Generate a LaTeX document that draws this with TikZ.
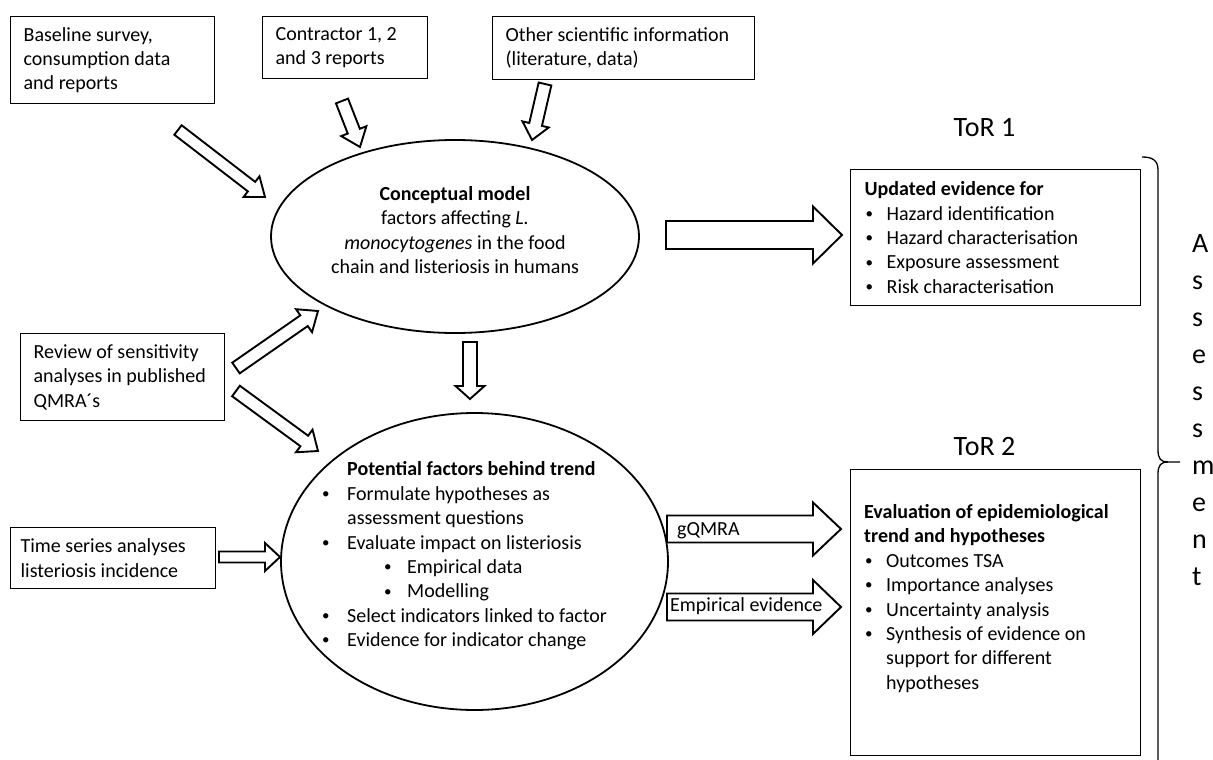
\documentclass[tikz,border=0pt]{standalone}
\usepackage{fontspec}
\setmainfont{Carlito}
\usetikzlibrary{calc,shapes.geometric}
\newcommand{\dotb}{\raisebox{1.8pt}{\fontsize{15}{15}\selectfont\textbullet}}
\newcommand{\bul}{\makebox[26pt][l]{\hspace{1pt}\dotb}}
\newcommand{\bulb}{\makebox[22pt][l]{\hspace{1pt}\dotb}}
\newcommand{\blockarr}[5]{%
  \draw[blockarrow] let \p3=($(#2)!#5!(#1)$) in
    ($(#1)!#3!90:(#2)$) -- ($(\p3)!#3!-90:(#1)$) -- ($(\p3)!#4!-90:(#1)$) -- (#2)
    -- ($(\p3)!#4!90:(#1)$) -- ($(\p3)!#3!90:(#1)$) -- ($(#1)!#3!-90:(#2)$) -- cycle;}
\begin{document}
\begin{tikzpicture}[x=1pt,y=-1pt,
  body/.style={font=\fontsize{20}{24.4}\selectfont},
  box/.style={body, draw, line width=1.3pt, align=flush left, inner xsep=13pt, inner ysep=0pt, anchor=north west},
  oval/.style={draw, ellipse, line width=1.8pt, inner sep=0pt},
  txt/.style={body, align=flush left, inner sep=0pt},
  big/.style={font=\fontsize{28}{37}\selectfont, inner sep=0pt},
  blockarrow/.style={draw, fill=white, line width=1.9pt, line join=miter}]
\useasboundingbox (0,0) rectangle (1213,760);

% source boxes
\node[box, minimum width=204, minimum height=87, text width=178] (b1) at (10,16)
  {Baseline survey,\\consumption data\\and reports};
\node[box, minimum width=165, minimum height=62, text width=139] (b2) at (262,16)
  {Contractor 1, 2\\and 3 reports};
\node[box, minimum width=262, minimum height=63, text width=236] (b3) at (492,16)
  {Other scientific information\\(literature, data)};
\node[box, minimum width=204, minimum height=87, text width=178] (rev) at (20,333)
  {Review of sensitivity\\analyses in published\\QMRA´s};
\node[box, minimum width=205, minimum height=61, inner xsep=10pt, text width=185] (tsa) at (10,527)
  {Time series analyses\\listeriosis incidence};

% ellipses
\node[oval, minimum width=368, minimum height=193] (e1) at (455,236.5) {};
\node[body, align=center, inner sep=0pt] (e1t) at (455,230)
  {\textbf{Conceptual model}\\factors affecting \textit{L.}\\\textit{monocytogenes} in the food\\chain and listeriosis in humans};
\node[oval, minimum width=387, minimum height=297] (e2) at (474.5,561.5) {};
\node[txt, anchor=west] (e2t) at (321,556)
  {\hspace*{26pt}\textbf{Potential factors behind trend}\\
   \bul Formulate hypotheses as\\
   \hspace*{26pt}assessment questions\\
   \bul Evaluate impact on listeriosis\\
   \hspace*{62pt}\makebox[24pt][l]{\hspace{1pt}\dotb}Empirical data\\
   \hspace*{62pt}\makebox[24pt][l]{\hspace{1pt}\dotb}Modelling\\
   \bul Select indicators linked to factor\\
   \bul Evidence for indicator change};

% ToR boxes
\node[big] (tor1l) at (984.5,128) {ToR 1};
\node[box, minimum width=290, minimum height=136, inner xsep=14pt, text width=262] (tor1) at (850,169)
  {\textbf{Updated evidence for}\\\bulb Hazard identification\\\bulb Hazard characterisation\\\bulb Exposure assessment\\\bulb Risk characterisation};
\node[big] (tor2l) at (984.5,447) {ToR 2};
\node[box, minimum width=290, minimum height=286] (tor2) at (850,469) {};
\node[txt, anchor=west] (tor2t) at (864,598.5)
  {\textbf{Evaluation of epidemiological}\\\textbf{trend and hypotheses}\\\bulb Outcomes TSA\\\bulb Importance analyses\\\bulb Uncertainty analysis\\\bulb Synthesis of evidence on\\\hspace*{22pt}support for different\\\hspace*{22pt}hypotheses};

% arrow end points
\coordinate (a1s) at (178,130); \coordinate (a1e) at (265,197);
\coordinate (a2s) at (342,101); \coordinate (a2e) at (360,147);
\coordinate (a3s) at (545,84);  \coordinate (a3e) at (532,140);
\coordinate (a4s) at (236,368); \coordinate (a4e) at (318,311);
\coordinate (a5s) at (236,391); \coordinate (a5e) at (318,451);
\coordinate (a6s) at (219,557); \coordinate (a6e) at (280,557);
\coordinate (a7s) at (470,342); \coordinate (a7e) at (470,399);
\coordinate (a8s) at (666,235); \coordinate (a8e) at (842,235);
\coordinate (a9s) at (667,529); \coordinate (a9e) at (841,529);
\coordinate (a10s) at (667,607); \coordinate (a10e) at (841,607);

\blockarr{a1s}{a1e}{6pt}{13pt}{17pt}
\blockarr{a2s}{a2e}{6.5pt}{13.5pt}{17pt}
\blockarr{a3s}{a3e}{6.5pt}{13.5pt}{16pt}
\blockarr{a4s}{a4e}{6.5pt}{14pt}{17pt}
\blockarr{a5s}{a5e}{6.5pt}{14pt}{17pt}
\blockarr{a6s}{a6e}{5.5pt}{14pt}{15pt}
\blockarr{a7s}{a7e}{7pt}{14.5pt}{13pt}
\blockarr{a8s}{a8e}{14pt}{28.5pt}{29pt}
\blockarr{a9s}{a9e}{13.5pt}{26.5pt}{28pt}
\blockarr{a10s}{a10e}{13.5pt}{27pt}{28pt}

\node[body, inner sep=0pt, anchor=west] (lg) at (677,531) {gQMRA};
\node[body, inner sep=0pt, anchor=west] (le) at (670,606) {Empirical evidence};

% brace
\draw[line width=1.3pt] (1142,157) .. controls (1152,157) and (1158,160) .. (1158,170)
  -- (1158,450) .. controls (1158,459) and (1161,462) .. (1168,462) -- (1180,462);
\draw[line width=1.3pt] (1168,462) .. controls (1161,462) and (1158,465) .. (1158,474) -- (1158,760);
\node[big, align=flush left, anchor=west] (asm) at (1192,410)
  {A\\s\\s\\e\\s\\s\\m\\e\\n\\t};
\end{tikzpicture}
\end{document}
